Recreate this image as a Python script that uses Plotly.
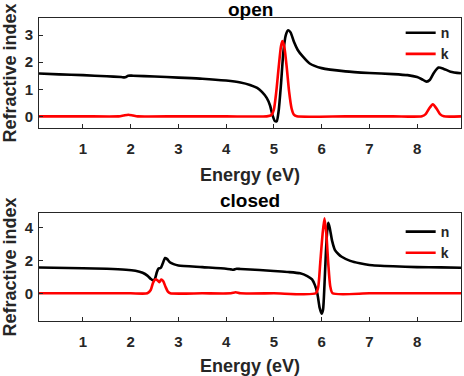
import plotly.graph_objects as go

# ---- data: "open" ----
open_n_E = [0.08, 0.5, 1.0, 1.5, 1.8, 1.88, 1.95, 2.05, 2.5, 3.0, 3.5, 4.0, 4.3, 4.5, 4.65, 4.75,
            4.85, 4.92, 4.97, 5.02, 5.06, 5.10, 5.15, 5.20, 5.25, 5.30, 5.35, 5.42, 5.5, 5.6,
            5.75, 6.0, 6.5, 7.0, 7.5, 7.8, 8.0, 8.1, 8.2, 8.27, 8.35, 8.45, 8.55, 8.7, 8.92]
open_n = [1.58, 1.55, 1.52, 1.48, 1.45, 1.44, 1.50, 1.50, 1.47, 1.43, 1.39, 1.32, 1.25, 1.16, 1.05, 0.90,
          0.68, 0.40, 0.05, -0.17, -0.18, 0.20, 1.20, 2.40, 3.00, 3.18, 3.10, 2.75, 2.45, 2.22,
          1.95, 1.78, 1.66, 1.60, 1.56, 1.52, 1.45, 1.37, 1.28, 1.35, 1.60, 1.80, 1.76, 1.65, 1.59]

open_k_E = [0.08, 1.0, 1.75, 1.85, 1.95, 2.05, 2.15, 3.0, 4.0, 4.85, 4.95, 5.0, 5.05, 5.1, 5.15,
            5.18, 5.22, 5.27, 5.32, 5.37, 5.42, 5.48, 6.5, 7.5, 8.1, 8.18, 8.25, 8.33, 8.41, 8.48,
            8.56, 8.92]
open_k = [0, 0, 0, 0.03, 0.06, 0.03, 0, 0, 0, 0, 0.05, 0.25, 0.9, 1.8, 2.6,
          2.78, 2.55, 1.8, 0.9, 0.3, 0.06, 0, 0, 0, 0, 0.08, 0.28, 0.44, 0.28, 0.08,
          0, 0]

# ---- data: "closed" ----
closed_n_E = [0.08, 1.0, 1.5, 1.9, 2.1, 2.25, 2.35, 2.42, 2.47, 2.51, 2.55, 2.58, 2.63, 2.67, 2.72,
              2.76, 2.82, 2.9, 3.0, 3.5, 4.0, 4.1, 4.15, 4.22, 4.3, 4.7, 5.0, 5.3, 5.55, 5.7,
              5.8, 5.86, 5.91, 5.96, 6.0, 6.03, 6.06, 6.09, 6.12, 6.14, 6.17, 6.22, 6.28, 6.35,
              6.42, 6.6, 6.8, 7.0, 7.5, 8.0, 8.5, 8.92]
closed_n = [1.57, 1.53, 1.50, 1.44, 1.37, 1.25, 1.08, 0.88, 0.78, 0.90, 1.30, 1.50, 1.55, 1.80, 2.15,
            2.10, 1.90, 1.78, 1.70, 1.60, 1.50, 1.46, 1.44, 1.50, 1.48, 1.42, 1.36, 1.30, 1.22, 1.05,
            0.85, 0.50, 0.0, -0.90, -1.25, -1.00, 0.50, 2.50, 3.90, 4.30, 4.00, 3.20, 2.64, 2.40,
            2.23, 1.98, 1.83, 1.73, 1.65, 1.60, 1.58, 1.56]

closed_k_E = [0.08, 1.0, 2.0, 2.35, 2.42, 2.47, 2.52, 2.56, 2.6, 2.64, 2.68, 2.73, 2.78, 2.83, 3.5,
              4.1, 4.2, 4.3, 5.0, 5.88, 5.93, 5.97, 6.02, 6.06, 6.10, 6.14, 6.18, 6.23, 7.0, 8.0, 8.92]
closed_k = [0, 0, 0, 0, 0.2, 0.65, 0.86, 0.80, 0.68, 0.84, 0.75, 0.40, 0.10, 0, 0,
            0, 0.06, 0, 0, 0, 0.4, 1.8, 3.6, 4.57, 3.6, 1.8, 0.45, 0, 0, 0, 0]

x_ticks = [1, 2, 3, 4, 5, 6, 7, 8]
open_y_ticks = [0, 1, 2, 3]
closed_y_ticks = [0, 2, 4]

FONT = "Liberation Sans, Arial, sans-serif"
AX = "#262626"

fig = go.Figure()
line_n = dict(color="black", width=2.6, shape="spline", smoothing=0.6)
line_k = dict(color="#ff0000", width=2.6, shape="spline", smoothing=0.6)

fig.add_trace(go.Scatter(x=open_n_E, y=open_n, mode="lines", name="n", line=line_n,
                         xaxis="x", yaxis="y", legend="legend"))
fig.add_trace(go.Scatter(x=open_k_E, y=open_k, mode="lines", name="k", line=line_k,
                         xaxis="x", yaxis="y", legend="legend"))
fig.add_trace(go.Scatter(x=closed_n_E, y=closed_n, mode="lines", name="n", line=line_n,
                         xaxis="x2", yaxis="y2", legend="legend2"))
fig.add_trace(go.Scatter(x=closed_k_E, y=closed_k, mode="lines", name="k", line=line_k,
                         xaxis="x2", yaxis="y2", legend="legend2"))

def xax(anchor):
    return dict(range=[0.08, 8.92], tickvals=x_ticks, anchor=anchor, automargin=False,
                showline=True, mirror=True, linecolor=AX, linewidth=1,
                ticks="inside", ticklen=4, tickcolor=AX, showgrid=False, zeroline=False,
                tickfont=dict(family=FONT, size=15, color=AX, weight="bold"),
                ticklabelstandoff=7,
                title=dict(text="Energy (eV)", standoff=12,
                           font=dict(family=FONT, size=18, color=AX, weight="bold")))

def yax(anchor, domain, rng, ticks):
    return dict(range=rng, tickvals=ticks, anchor=anchor, domain=domain, automargin=False,
                showline=True, mirror=True, linecolor=AX, linewidth=1,
                ticks="inside", ticklen=4, tickcolor=AX, showgrid=False, zeroline=False,
                tickfont=dict(family=FONT, size=15, color=AX, weight="bold"),
                ticklabelstandoff=2,
                title=dict(text="Refractive index", standoff=4,
                           font=dict(family=FONT, size=18, color=AX, weight="bold")))

legend_common = dict(bgcolor="rgba(0,0,0,0)", borderwidth=0, xanchor="right", yanchor="top",
                     font=dict(family=FONT, size=14, color=AX, weight="bold"),
                     tracegroupgap=0)

fig.update_layout(
    width=464, height=376,
    margin=dict(l=39, r=3, t=18, b=55, autoexpand=False),
    paper_bgcolor="white", plot_bgcolor="white",
    xaxis=xax("y"),
    yaxis=yax("x", [0.637, 1.0], [-0.43, 3.63], open_y_ticks),
    xaxis2=xax("y2"),
    yaxis2=yax("x2", [0.0, 0.357], [-1.69, 4.91], closed_y_ticks),
    legend=dict(x=0.985, y=1.003, **legend_common),
    legend2=dict(x=0.985, y=0.3465, **legend_common),
    showlegend=True,
    annotations=[
        dict(text="open", x=0.5, xref="paper", y=1.0, yref="paper", yanchor="middle",
             yshift=9, showarrow=False,
             font=dict(family=FONT, size=19, color="black", weight="bold")),
        dict(text="closed", x=0.5, xref="paper", y=0.357, yref="paper", yanchor="middle",
             yshift=12, showarrow=False,
             font=dict(family=FONT, size=19, color="black", weight="bold")),
    ],
)

fig.write_html("out.html", config={"displayModeBar": False},
               post_script="document.body.style.margin='0';document.body.style.overflow='hidden';")
